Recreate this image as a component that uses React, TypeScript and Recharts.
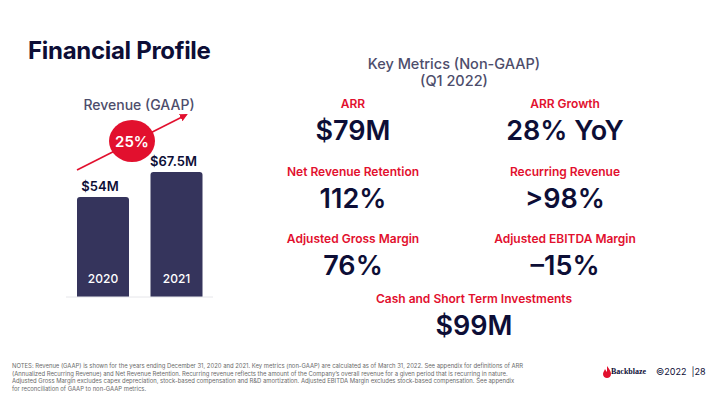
import React from 'react';
import { BarChart, Bar, XAxis, YAxis, LabelList, ReferenceLine } from 'recharts';

const years = ['2020', '2021'];
const revenue = [54, 67.5];
const revenueLabels = ['$54M', '$67.5M'];
const growthLabel = '25%';

const metricNames = ['ARR', 'ARR Growth', 'Net Revenue Retention', 'Recurring Revenue', 'Adjusted Gross Margin', 'Adjusted EBITDA Margin', 'Cash and Short Term Investments'];
const metricValues = ['$79M', '28% YoY', '112%', '>98%', '76%', '\u201315%', '$99M'];

const notes = [
  'NOTES:  Revenue (GAAP) is shown for the years ending December 31, 2020 and 2021.  Key metrics (non-GAAP) are calculated as of March  31, 2022.  See appendix for definitions of ARR',
  '(Annualized Recurring Revenue) and Net Revenue Retention.  Recurring revenue reflects the amount of the Company\u2019s overall revenue for a given period that is recurring in nature.',
  'Adjusted Gross Margin excludes capex depreciation, stock-based compensation and R&D amortization. Adjusted EBITDA Margin excludes stock-based compensation.  See appendix',
  'for reconciliation of GAAP to non-GAAP metrics.',
];

const data = years.map((y, i) => ({ year: y, revenue: revenue[i], label: revenueLabels[i] }));

const NAVY = '#0d0e36';
const RED = '#e2102e';
const BAR = '#35345c';
const GREY = '#4d4d6b';

// layout positions for metric cells (centers)
const cellPos = [
  [353, 103], [565, 103],
  [353, 171], [565, 171],
  [353, 238], [565, 238],
  [474, 298],
];

const abs = (x: number, y: number): React.CSSProperties => ({
  position: 'absolute',
  left: x,
  top: y,
  transform: 'translate(-50%, -50%)',
  whiteSpace: 'nowrap',
});

export default function App() {
  return (
    <div style={{ position: 'absolute', left: 0, top: 0, width: 720, height: 405, background: '#fff', overflow: 'hidden', fontFamily: 'Inter, "Noto Sans", sans-serif' }}>
      <div style={{ position: 'absolute', left: 28, top: 36, fontSize: 24, fontWeight: 700, color: NAVY, letterSpacing: -0.3 }}>Financial Profile</div>

      <div style={{ ...abs(139, 104), fontSize: 14, fontWeight: 500, color: GREY }}>Revenue (GAAP)</div>

      <div style={{ position: 'absolute', left: 0, top: 0 }}>
        <BarChart width={240} height={310} data={data} margin={{ top: 97, right: 27, bottom: 13, left: 66 }}>
          <XAxis dataKey="year" hide />
          <YAxis hide domain={[0, 108]} />
          <ReferenceLine y={0} stroke="#e6e6ea" strokeWidth={1} />
          <Bar dataKey="revenue" fill={BAR} barSize={52} radius={[3, 3, 0, 0]} isAnimationActive={false}>
            <LabelList dataKey="label" position="top" offset={6} dx={-3} fill={NAVY} fontSize={13} fontWeight={600} />
            <LabelList dataKey="year" position="insideBottom" offset={14} fill="#ffffff" fontSize={12} fontWeight={500} />
          </Bar>
        </BarChart>
      </div>

      <svg width={240} height={310} style={{ position: 'absolute', left: 0, top: 0, pointerEvents: 'none' }}>
        <defs>
          <marker id="ah" markerWidth="8" markerHeight="8" refX="6" refY="4" orient="auto" markerUnits="userSpaceOnUse">
            <path d="M0,0 L8,4 L0,8 z" fill={RED} />
          </marker>
        </defs>
        <line x1={77} y1={170} x2={186} y2={115} stroke={RED} strokeWidth={1.6} markerEnd="url(#ah)" />
        <ellipse cx={132} cy={141} rx={23} ry={21} fill={RED} />
        <text x={132} y={141} textAnchor="middle" dominantBaseline="central" fill="#fff" fontSize={15} fontWeight={600}>{growthLabel}</text>
      </svg>

      <div style={{ ...abs(454, 63), fontSize: 14.5, fontWeight: 500, color: GREY }}>Key Metrics (Non-GAAP)</div>
      <div style={{ ...abs(454, 80), fontSize: 14.5, fontWeight: 500, color: GREY }}>(Q1 2022)</div>

      {metricNames.map((name, i) => (
        <React.Fragment key={name}>
          <div style={{ ...abs(cellPos[i][0], cellPos[i][1]), fontSize: 12, fontWeight: 600, color: RED }}>{name}</div>
          <div style={{ ...abs(cellPos[i][0], cellPos[i][1] + 27), fontSize: 27, fontWeight: 600, color: NAVY }}>{metricValues[i]}</div>
        </React.Fragment>
      ))}

      <div style={{ position: 'absolute', left: 12, top: 362, fontSize: 5.9, lineHeight: '7.6px', color: '#6a6a6a' }}>
        {notes.map((n) => (
          <div key={n} style={{ whiteSpace: 'nowrap' }}>{n}</div>
        ))}
      </div>

      <svg width={10} height={12} style={{ position: 'absolute', left: 602, top: 366 }}>
        <path d="M5,0 C7,3 9,5 9,8 C9,10.5 7,12 5,12 C3,12 1,10.5 1,8 C1,6 2.5,5 3,3 C4,4.5 4,5 5,6 C5,4 5,2 5,0 z" fill={RED} />
      </svg>
      <div style={{ position: 'absolute', left: 611, top: 367, fontSize: 8, fontWeight: 700, fontFamily: '"Liberation Serif", "DejaVu Serif", serif', color: NAVY }}>Backblaze</div>
      <div style={{ position: 'absolute', left: 656, top: 366, fontSize: 9, color: NAVY }}>©2022 &nbsp;|28</div>
    </div>
  );
}
